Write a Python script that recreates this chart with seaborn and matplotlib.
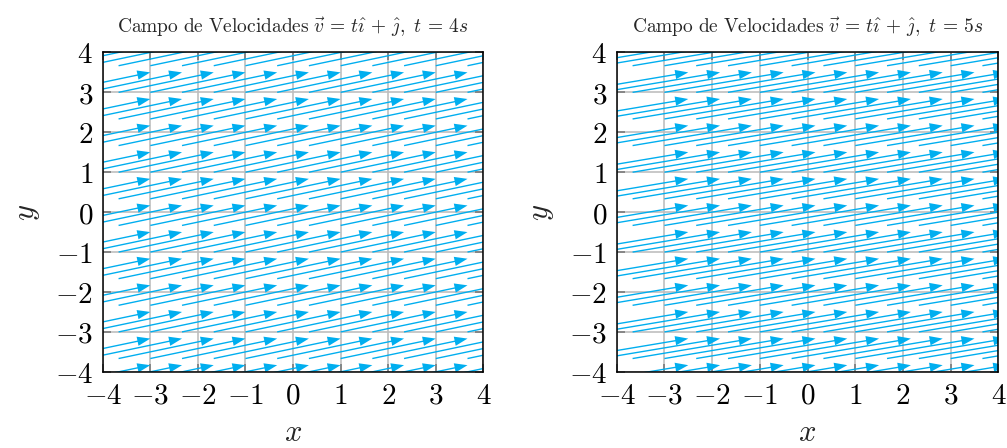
import numpy as np
import matplotlib
matplotlib.use("Agg")
import matplotlib.pyplot as plt
import seaborn as sns

# Velocity field v = t i + j sampled on a regular grid, shown at two instants
times = [4, 5]
grid_min, grid_max, grid_samples = -5.0, 5.0, 16
arrow_scale = 0.5          # arrows drawn as 0.5 * (u, v) in data units
u_component = 1.0          # u = t * u_component
v_component = 1.0          # v = v_component

tick_values = [-4, -3, -2, -1, 0, 1, 2, 3, 4]
tick_labels = [r"$-4$", r"$-3$", r"$-2$", r"$-1$", r"$0$", r"$1$", r"$2$", r"$3$", r"$4$"]
title_template = (r"$\mathrm{Campo\ de\ Velocidades}\ \vec{v}\,=\,t\hat{\imath}\,+\,"
                  r"\hat{\jmath},\ t\,=\,%ds$")

sns.set_theme(style="white")
plt.rcParams["mathtext.fontset"] = "cm"
plt.rcParams["font.family"] = ["DejaVu Serif"]

arrow_color = "#00AEEF"
grid_color = "#BFBFBF"

fig = plt.figure(figsize=(10.07, 4.48), dpi=100)
axes = [
    fig.add_axes([0.102, 0.170, 0.378, 0.713]),
    fig.add_axes([0.6124, 0.170, 0.379, 0.713]),
]

samples = np.linspace(grid_min, grid_max, grid_samples)
X, Y = np.meshgrid(samples, samples)

for ax, t in zip(axes, times):
    U = np.full_like(X, arrow_scale * t * u_component)
    V = np.full_like(Y, arrow_scale * v_component)

    ax.set_xlim(-4, 4)
    ax.set_ylim(-4, 4)
    ax.set_axisbelow(True)
    ax.grid(True, color=grid_color, linewidth=1.2)

    ax.quiver(X, Y, U, V, angles="xy", scale_units="xy", scale=1,
              color=arrow_color, width=0.0036, headwidth=6.8,
              headlength=9.5, headaxislength=9.5, zorder=3)

    ax.set_xticks(tick_values)
    ax.set_xticklabels(tick_labels)
    ax.set_yticks(tick_values)
    ax.set_yticklabels(tick_labels)
    ax.tick_params(axis="both", which="major", direction="in", length=6,
                   width=1.1, color="0.45", labelsize=21, pad=7,
                   top=True, right=True, bottom=True, left=True,
                   labelcolor="black")

    for spine in ax.spines.values():
        spine.set_color("black")
        spine.set_linewidth(1.1)
        spine.set_zorder(5)

    ax.set_xlabel(r"$x$", fontsize=22, labelpad=5)
    ax.set_ylabel(r"$y$", fontsize=22, labelpad=9)
    ax.set_title(title_template % t, fontsize=14, pad=14)

fig.savefig("out.png", dpi=100)
